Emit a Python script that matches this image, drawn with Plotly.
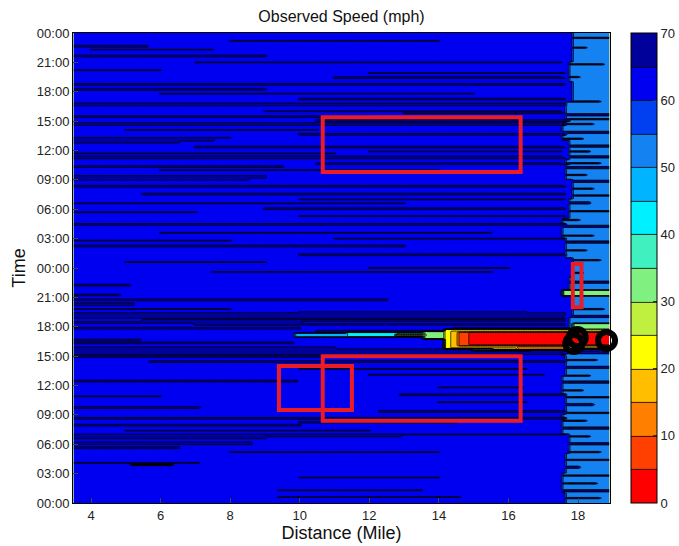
import numpy as np
import plotly.graph_objects as go

# ---------------- data ----------------
# grid of detector positions (miles) and time samples (hours over two days)
distance_miles = np.round(np.arange(3.5, 18.95, 0.1), 2)
time_hours = np.round(np.arange(0.0, 48.05, 0.1), 2)

base_speed_main = 62.0      # free-flow speed on most of the corridor
base_speed_end = 52.0       # lower speed on the last section

# left edge of the slower end section (every 2 hours)
boundary_hours = [0, 2, 4, 6, 8, 10, 12, 14, 16, 18, 20, 22, 24, 26, 28, 30, 32,
                  34, 36, 38, 40, 42, 44, 46, 48]
boundary_miles = [17.7, 17.6, 17.7, 17.8, 17.6, 17.7, 17.6, 17.7, 17.6, 17.8, 17.9,
                  17.8, 17.9, 17.7, 17.6, 17.8, 17.9, 17.7, 17.8, 17.6, 17.7, 17.9,
                  17.8, 17.9, 17.9]

# fast (65-70 mph) streaks on the main section: hour, start, end, thickness (rows), speed
streak_hours = [46.6, 46.3, 45.6, 45.0, 44.2, 43.4, 42.7, 41.8, 41.2, 40.6, 40.0, 39.4,
                39.0, 38.6, 38.1, 37.6, 37.0, 36.8, 36.3, 35.7, 35.2, 34.6, 34.0, 33.2,
                33.0, 32.3, 31.5, 30.6, 30.0, 29.3, 28.4, 27.6, 26.8, 26.2, 25.3, 24.6,
                23.6, 22.2, 21.2, 20.7, 20.2, 19.8, 19.2, 18.9, 18.6, 18.2, 17.8, 16.6,
                16.3, 15.5, 15.2, 14.9, 14.4, 13.7, 12.4, 11.8, 11.0, 10.3, 9.7, 9.3,
                8.6, 7.9, 7.4, 6.8, 6.6, 6.0, 5.2, 4.1, 3.9, 1.3, 0.6,
                47.2, 43.9, 42.2, 39.8, 37.3, 35.9, 34.3, 31.0, 29.7, 27.0, 24.0,
                19.5, 18.4, 17.5, 15.8, 13.1, 10.9, 8.2, 7.0, 5.6, 2.6]
streak_start = [3.5, 4.0, 3.5, 7.0, 3.5, 11.0, 3.5, 6.0, 10.0, 3.5, 9.0, 3.5,
                10.5, 3.5, 5.0, 10.0, 3.5, 3.5, 7.0, 3.5, 3.5, 10.5, 6.0, 3.5,
                3.5, 3.5, 5.5, 3.5, 9.0, 10.0, 3.5, 6.0, 3.5, 3.5, 10.0, 5.0,
                7.5, 3.5, 3.5, 3.5, 3.5, 3.5, 3.5, 3.5, 5.5, 7.0, 3.5, 3.5,
                3.5, 3.5, 3.5, 3.5, 5.7, 10.0, 3.5, 14.0, 12.9, 14.0, 3.5, 12.3,
                3.5, 3.5, 5.0, 3.5, 3.5, 3.5, 8.0, 3.5, 5.2, 9.4, 9.4,
                8.0, 12.0, 3.5, 13.0, 3.5, 12.0, 3.5, 10.0, 3.5, 11.0, 12.0,
                10.0, 3.5, 10.5, 3.5, 12.0, 3.5, 10.0, 12.5, 3.5, 10.0]
streak_end = [5.6, 7.5, 9.0, 17.5, 6.0, 17.6, 17.6, 15.0, 17.6, 17.6, 17.5, 12.0,
              17.7, 17.6, 10.5, 17.6, 7.5, 6.5, 17.6, 11.0, 17.6, 17.7, 14.0, 9.0,
              8.5, 17.6, 17.6, 13.0, 17.6, 17.6, 17.6, 15.5, 8.0, 13.0, 17.6, 9.0,
              15.5, 5.1, 4.8, 12.5, 5.2, 8.0, 17.6, 17.6, 17.6, 17.6, 10.0, 5.4,
              9.8, 18.6, 17.6, 11.4, 17.6, 16.5, 9.9, 16.4, 17.6, 16.5, 7.1, 17.6,
              17.6, 10.0, 12.0, 12.9, 9.0, 8.6, 14.0, 7.1, 6.3, 13.5, 14.6,
              14.0, 17.6, 9.0, 17.6, 8.0, 17.6, 9.5, 17.6, 7.0, 17.6, 16.0,
              16.5, 10.0, 14.0, 11.0, 17.0, 6.0, 14.5, 17.6, 6.5, 14.0]
streak_rows = [2, 1, 2, 1, 1, 2, 2, 1, 2, 3, 1, 2,
               2, 3, 1, 2, 3, 2, 2, 1, 3, 2, 1, 3,
               2, 2, 2, 1, 2, 1, 2, 1, 1, 2, 2, 1,
               1, 2, 2, 2, 3, 1, 3, 3, 2, 2, 2, 2,
               2, 3, 3, 2, 2, 1, 2, 1, 2, 1, 2, 2,
               2, 2, 1, 3, 2, 3, 1, 1, 1, 1, 1,
               1, 1, 2, 1, 1, 1, 2, 1, 1, 1, 1,
               1, 2, 2, 2, 1, 1, 2, 1, 2, 1]
streak_speed = [67] * 68 + [45, 67, 67] + [67] * 21

# faster streaks inside the end section: hour, end (start 17.6, speed 62)
end_streak_hours = [47.5, 46.5, 44.8, 43.5, 41.0, 39.6, 39.2, 38.7, 37.8, 37.2, 36.4,
                    35.9, 35.3, 34.7, 34.2, 33.5, 32.8, 32.1, 31.4, 30.6, 29.8, 28.9,
                    28.2, 27.3, 26.6, 25.8, 24.8, 23.5, 22.5, 19.8, 19.0, 15.3, 14.6,
                    13.8, 13.0, 12.3, 11.5, 10.8, 10.0, 9.2, 8.4, 7.6, 6.8, 6.0, 5.2,
                    4.4, 3.6, 2.8, 2.0, 1.2, 0.5]
end_streak_end = [18.9, 18.2, 18.7, 18.0, 18.6, 18.9, 18.9, 18.4, 18.9, 18.1, 18.9,
                  18.3, 18.9, 18.6, 18.9, 18.2, 18.9, 18.4, 18.9, 18.3, 18.9, 18.0,
                  18.9, 18.4, 18.9, 18.2, 18.6, 18.1, 18.9, 18.7, 18.9, 18.9, 18.5,
                  18.9, 18.3, 18.9, 18.1, 18.9, 18.4, 18.9, 18.2, 18.9, 18.3, 18.9,
                  18.6, 18.9, 18.0, 18.9, 18.5, 18.9, 18.6]
end_streak_rows = [1, 1, 1, 1, 1, 2, 1, 1, 2, 1, 2,
                   1, 2, 1, 2, 1, 2, 1, 1, 2, 1, 1,
                   2, 1, 2, 1, 1, 1, 2, 1, 2, 2, 1,
                   2, 1, 2, 1, 1, 2, 1, 1, 2, 1, 2,
                   1, 1, 2, 1, 1, 2, 1]
end_streak_start = 17.6
end_streak_speed = 62

# congestion patches: hour from, hour to, mile from, mile to, speed
jam_hour_from = [17.00, 16.95, 17.05, 16.80, 15.75, 17.55, 15.90, 16.10, 16.20, 15.55,
                 15.70, 15.65, 21.20, 21.30, 17.80]
jam_hour_to = [17.30, 17.40, 17.20, 17.50, 17.75, 17.80, 17.55, 17.45, 17.40, 16.05,
               15.95, 15.95, 21.70, 21.50, 18.30]
jam_mile_from = [9.9, 11.4, 12.8, 13.6, 14.2, 14.4, 14.4, 14.6, 14.9, 15.0,
                 15.6, 16.3, 17.6, 17.7, 17.9]
jam_mile_to = [11.4, 13.6, 13.6, 14.6, 18.9, 18.9, 18.9, 18.9, 18.9, 16.6,
               16.5, 17.7, 18.9, 18.2, 18.9]
jam_speed = [48, 44, 27, 35, 22, 40, 17, 8, 3, 47, 24, 13, 33, 42, 33]

# speed levels and their colours (0-5 ... 65-70 mph)
level_colors = ['#ff0000', '#ff4000', '#ff8000', '#ffbf00', '#ffff00', '#bff040',
                '#80f080', '#40f0bf', '#00f0ff', '#00b4ff', '#1482f0', '#0040f0',
                '#0000f0', '#00009a']
colorbar_ticks = [0, 10, 20, 30, 40, 50, 60, 70]

# time tick labels
time_tick_vals = list(range(0, 49, 3))
time_tick_text = ['00:00', '03:00', '06:00', '09:00', '12:00', '15:00', '18:00', '21:00',
                  '00:00', '03:00', '06:00', '09:00', '12:00', '15:00', '18:00', '21:00',
                  '00:00']
distance_ticks = [4, 6, 8, 10, 12, 14, 16, 18]

# highlighted regions (red boxes): mile from, mile to, hour from, hour to
box_mile_from = [10.66, 10.66, 9.40, 17.85]
box_mile_to = [16.35, 16.35, 11.50, 18.10]
box_hour_from = [33.8, 8.4, 9.5, 20.0]
box_hour_to = [39.4, 15.0, 14.0, 24.4]

# black circle marks
circle_miles = [17.88, 17.98, 18.82]
circle_hours = [16.3, 16.9, 16.6]

# ---------------- build the speed field ----------------
Z = np.full((len(time_hours), len(distance_miles)), base_speed_main)

for i, h in enumerate(time_hours):
    k = int(np.argmin(np.abs(np.array(boundary_hours) - h)))
    Z[i, distance_miles >= boundary_miles[k] - 1e-9] = base_speed_end

def row_of(h):
    return int(np.argmin(np.abs(time_hours - h)))

def span(a, b):
    return (distance_miles >= a - 1e-9) & (distance_miles <= b + 1e-9)

for h, a, b, t, s in zip(streak_hours, streak_start, streak_end, streak_rows, streak_speed):
    r = row_of(h)
    Z[r:r + t, span(a, b)] = s

for h, b, t in zip(end_streak_hours, end_streak_end, end_streak_rows):
    r = row_of(h)
    Z[r:r + t, span(end_streak_start, b)] = end_streak_speed

for h0, h1, a, b, s in zip(jam_hour_from, jam_hour_to, jam_mile_from, jam_mile_to, jam_speed):
    rm = (time_hours >= h0 - 1e-9) & (time_hours <= h1 + 1e-9)
    cm = span(a, b)
    Z[np.ix_(rm, cm)] = np.minimum(Z[np.ix_(rm, cm)], s)

# stepped colour scale: band i sits at i/13 (contours start 5, end 65, size 5)
n = len(level_colors)
colorscale = []
for i, c in enumerate(level_colors):
    lo = max(0.0, (i - 0.5) / (n - 1))
    hi = min(1.0, (i + 0.5) / (n - 1))
    colorscale.append([lo, c])
    colorscale.append([hi, c])

fig = go.Figure()
fig.add_trace(go.Contour(
    x=distance_miles, y=time_hours, z=Z,
    zmin=0, zmax=70,
    autocontour=False,
    contours=dict(start=5, end=65, size=5, coloring='fill'),
    colorscale=colorscale,
    line=dict(color='black', width=0.8, smoothing=0.8),
    colorbar=dict(
        x=(631 - 73) / 537, xanchor='left', xpad=0,
        y=0.5, yanchor='middle', len=1, lenmode='fraction', ypad=0,
        thickness=26, outlinewidth=1, outlinecolor='black',
        tickvals=colorbar_ticks, ticks='inside', ticklen=4, tickcolor='#333',
        tickfont=dict(family='Liberation Sans, Arial', size=13, color='#222'),
    ),
    hoverinfo='skip',
))

fig.add_trace(go.Scatter(
    x=circle_miles, y=circle_hours, mode='markers',
    marker=dict(symbol='circle-open', size=17, color='black',
                line=dict(color='black', width=6)),
    cliponaxis=False, showlegend=False, hoverinfo='skip',
))

for a, b, h0, h1 in zip(box_mile_from, box_mile_to, box_hour_from, box_hour_to):
    fig.add_shape(type='rect', xref='x', yref='y', x0=a, x1=b, y0=h0, y1=h1,
                  line=dict(color='rgb(235,28,36)', width=4))

fig.update_layout(
    width=679, height=546,
    margin=dict(l=73, r=69, t=33, b=43, autoexpand=False),
    paper_bgcolor='white', plot_bgcolor='white',
    font=dict(family='Liberation Sans, Arial', size=13, color='#222'),
    title=dict(text='Observed Speed (mph)', x=0.5, xref='paper', xanchor='center',
               y=1 - 16 / 546, yanchor='middle', yref='container',
               font=dict(size=16, color='#111')),
    showlegend=False,
)
fig.update_xaxes(range=[3.48, 18.92], tickvals=distance_ticks, ticks='inside', ticklen=5,
                 showline=True, mirror=True, linecolor='black', linewidth=1,
                 showgrid=False, zeroline=False,
                 title=dict(text='Distance (Mile)', font=dict(size=18, color='#111'), standoff=4))
fig.update_yaxes(range=[0, 48], tickvals=time_tick_vals, ticktext=time_tick_text,
                 ticks='inside', ticklen=5,
                 showline=True, mirror=True, linecolor='black', linewidth=1,
                 showgrid=False, zeroline=False,
                 title=dict(text='Time', font=dict(size=18, color='#111'), standoff=6))

fig.write_html('out.html')
